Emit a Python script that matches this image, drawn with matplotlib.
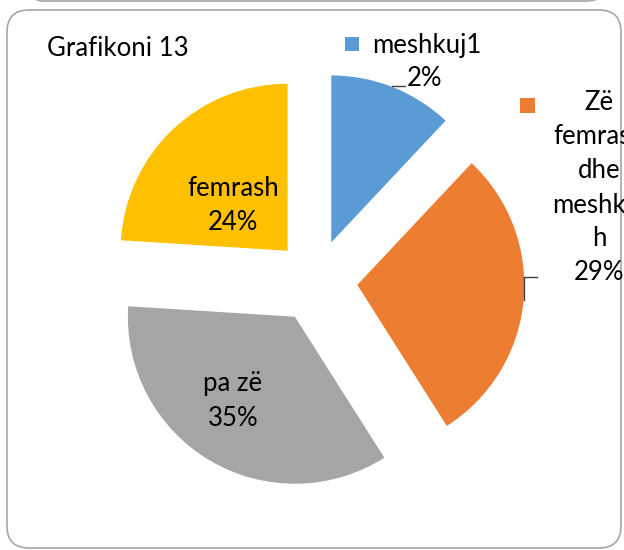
import matplotlib.pyplot as plt
from matplotlib.patches import FancyBboxPatch, Rectangle

# data
categories = ["meshkuj", "Zë femrash dhe meshkujsh", "pa zë", "femrash"]
values = [12, 29, 35, 24]
colors = ["#5B9BD5", "#ED7D31", "#A5A5A5", "#FFC000"]
# data labels as they wrap in the original
label_lines = ["meshkuj1\n2%", "Zë\nfemrash\ndhe\nmeshkuj\nh\n29%", "pa zë\n35%", "femrash\n24%"]

W, H = 624, 550
fig = plt.figure(figsize=(W / 100, H / 100), dpi=100)
ax = fig.add_axes([0, 0, 1, 1])

plt.rcParams['font.family'] = ['Lato', 'DejaVu Sans']

# pixel -> data (y up)
def py(y):
    return H - y

wedges, _ = ax.pie(values, colors=colors, radius=167, center=(316, py(281)),
                   explode=[41.5] * len(values), startangle=90, counterclock=False,
                   wedgeprops=dict(linewidth=0))
ax.set_xlim(0, W)
ax.set_ylim(0, H)
ax.set_aspect('auto')
ax.axis('off')

# chart frames
ax.add_patch(FancyBboxPatch((7, py(548)), 614, 538, boxstyle="round,pad=0,rounding_size=22",
                            facecolor='none', edgecolor='#a6a6a6', linewidth=1.2, clip_on=False))
ax.add_patch(FancyBboxPatch((20, py(1)), 588, 100, boxstyle="round,pad=0,rounding_size=22",
                            facecolor='none', edgecolor='#a6a6a6', linewidth=1.2, clip_on=False))

fs = 18.5
ax.text(47, py(48), "Grafikoni 13", fontsize=fs, va='center', ha='left')

# meshkuj label with legend key and leader line
ax.add_patch(Rectangle((345, py(51)), 14, 14, color=colors[0], linewidth=0))
ax.text(372, py(46), label_lines[0].split("\n")[0], fontsize=fs, va='center', ha='left')
ax.text(425, py(78), label_lines[0].split("\n")[1], fontsize=fs, va='center', ha='center')
ax.plot([392, 405], [py(86), py(86)], color='#404040', linewidth=1)

# Zë femrash dhe meshkujsh label (runs off the right edge, as in the original)
ax.add_patch(Rectangle((520, py(113)), 15, 15, color=colors[1], linewidth=0))
ax.text(599, py(188), label_lines[1], fontsize=fs, va='center', ha='center', linespacing=1.45)
ax.plot([524, 524, 537], [py(300), py(277), py(277)], color='#404040', linewidth=1)

ax.text(233, py(401), label_lines[2], fontsize=fs, va='center', ha='center', linespacing=1.45)
ax.text(233, py(206), label_lines[3], fontsize=fs, va='center', ha='center', linespacing=1.45)

fig.savefig("out.png", dpi=100)
